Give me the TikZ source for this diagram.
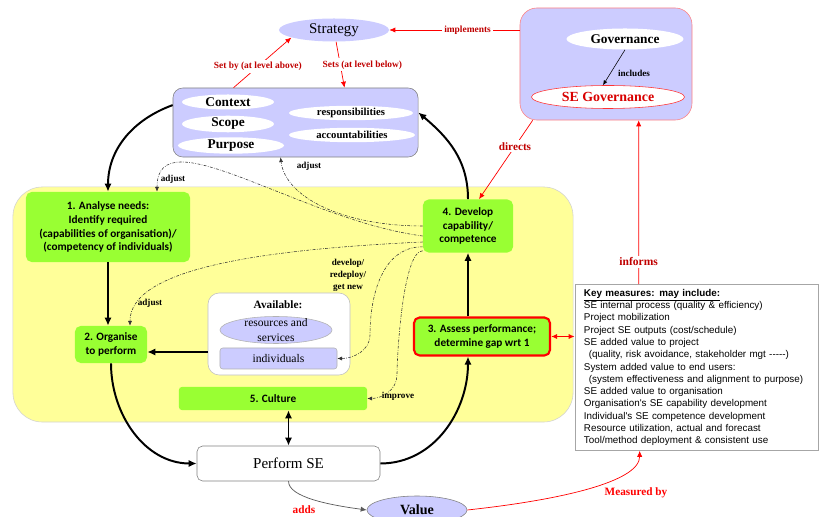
\documentclass[tikz,border=0pt]{standalone}
\usepackage{fontspec}
\setmainfont{Liberation Serif}
\newfontfamily\boxfont{Carlito}
\newfontfamily\listfont{Liberation Sans}
\usetikzlibrary{arrows.meta, positioning, calc, shapes.geometric}
\definecolor{lavender}{RGB}{204,204,255}
\definecolor{paleyellow}{RGB}{255,255,153}
\definecolor{limegreen}{RGB}{153,255,51}
\definecolor{darkred}{RGB}{192,0,0}
\definecolor{pinkred}{RGB}{255,128,128}

\begin{document}
\begin{tikzpicture}[
    x=0.025cm, y=-0.025cm,
    oval/.style={ellipse, inner sep=0pt},
    panel/.style={rectangle, rounded corners=7pt, draw=gray, fill=lavender, inner sep=0pt},
    stage/.style={rectangle, rounded corners=4pt, fill=limegreen, align=center, inner sep=0pt,
        font=\boxfont\bfseries\fontsize{8}{9.9}\selectfont},
    note/.style={font=\bfseries\fontsize{6.5}{8.5}\selectfont, align=center, inner sep=1pt},
    tag/.style={fill=white, text=darkred, inner sep=1.5pt, font=\bfseries\fontsize{6.7}{8}\selectfont},
    flow/.style={-{Latex[length=2mm, width=1.8mm]}, line width=1.4pt},
    twoway/.style={{Latex[length=2mm, width=1.8mm]}-{Latex[length=2mm, width=1.8mm]}, line width=1.4pt},
    link/.style={-{Latex[length=1.5mm, width=1.3mm]}, red, line width=0.5pt},
    tie/.style={-{Latex[length=1.2mm, width=1mm]}, black!80, line width=0.4pt,
        dash pattern=on 2pt off 1pt on 0.5pt off 1pt}
]
    \useasboundingbox (0,0) rectangle (824,517);

    % yellow working area
    \node[rectangle, rounded corners=21pt, draw=gray!35, fill=paleyellow,
        minimum width=14cm, minimum height=5.875cm] (area) at (293,304.5) {};

    % strategy and context
    \node[oval, fill=lavender, minimum width=2.75cm, minimum height=0.575cm,
        font=\fontsize{10.6}{12}\selectfont] (strategy) at (334,30) {Strategy};
    \node[panel, minimum width=6.125cm, minimum height=1.725cm] (ctx) at (295.5,122.5) {};
    \node[oval, fill=white, minimum width=2.3cm, minimum height=0.375cm,
        font=\bfseries\fontsize{9.5}{11}\selectfont] (context) at (228,102) {Context};
    \node[oval, fill=white, minimum width=2.3cm, minimum height=0.375cm,
        font=\bfseries\fontsize{9.5}{11}\selectfont] (scope) at (228,124) {Scope};
    \node[oval, fill=white, minimum width=2.65cm, minimum height=0.4cm,
        font=\bfseries\fontsize{9.5}{11}\selectfont] (purpose) at (231,145.5) {Purpose};
    \node[oval, fill=white, minimum width=3.1cm, minimum height=0.36cm,
        font=\bfseries\fontsize{7.6}{9}\selectfont] (resp) at (351,113) {responsibilities};
    \node[oval, fill=white, minimum width=3.15cm, minimum height=0.36cm,
        font=\bfseries\fontsize{7.6}{9}\selectfont] (acc) at (352,135) {accountabilities};

    % governance
    \node[rectangle, rounded corners=12pt, draw=pinkred, fill=lavender,
        minimum width=4.3cm, minimum height=2.8cm] (gbox) at (606,64) {};
    \node[oval, fill=white, minimum width=2.925cm, minimum height=0.525cm,
        font=\bfseries\fontsize{9.5}{11}\selectfont] (gov) at (625,39) {Governance};
    \node[oval, fill=white, draw=red!80, text=red!85!black, minimum width=3.825cm, minimum height=0.575cm,
        font=\bfseries\fontsize{9.9}{11}\selectfont] (segov) at (608,97) {SE Governance};
    \node[note] (includes) at (634,73) {includes};

    % stages
    \node[stage, minimum width=4.1cm, minimum height=1.75cm] (analyse) at (108,227)
        {1. Analyse needs:\\Identify required\\(capabilities of organisation)/\\(competency of individuals)};
    \node[stage, minimum width=1.8cm, minimum height=0.925cm] (organise) at (111,344.5)
        {2. Organise\\to perform};
    \node[stage, minimum width=2.25cm, minimum height=1.325cm] (develop) at (468,226)
        {4. Develop\\capability/\\competence};
    \node[stage, draw=red, line width=1.5pt, minimum width=3.4cm, minimum height=0.95cm] (assess) at (482,336.5)
        {3. Assess performance;\\determine gap wrt 1};
    \node[stage, rounded corners=2pt, minimum width=4.7cm, minimum height=0.575cm] (culture) at (273,398.5)
        {5. Culture};

    % available resources
    \node[rectangle, rounded corners=8pt, draw=gray!50, fill=white,
        minimum width=3.55cm, minimum height=2.05cm] (avail) at (279,334) {};
    \node[font=\bfseries\fontsize{8}{9}\selectfont, inner sep=0pt] (availtitle) at (278,305) {Available:};
    \node[oval, fill=lavender, draw=gray!60, minimum width=2.8cm, minimum height=0.675cm,
        label={[align=center, font=\fontsize{8.2}{10.6}\selectfont]center:resources and\\services}] (resources) at (276,330) {};
    \node[rectangle, rounded corners=2pt, fill=lavender, draw=gray!60, minimum width=2.925cm, minimum height=0.525cm,
        font=\fontsize{8.3}{9}\selectfont] (individuals) at (278.5,358.5) {individuals};

    % perform and value
    \node[rectangle, rounded corners=4pt, draw=gray, fill=white, minimum width=4.575cm, minimum height=0.875cm,
        font=\fontsize{10.7}{12}\selectfont] (perform) at (288.5,463.5) {Perform SE};
    \node[oval, fill=lavender, draw=gray, minimum width=2.5cm, minimum height=0.7cm,
        font=\bfseries\fontsize{10}{12}\selectfont] (value) at (417,510) {Value};

    % key measures
    \node[rectangle, draw=gray!70, fill=white, minimum width=6.075cm, minimum height=4.05cm,
        text width=5.625cm, inner xsep=6.4pt, align=left,
        font=\listfont\fontsize{7}{8.74}\selectfont] (measures) at (696.5,367.5)
        {\underline{\textbf{Key measures: may include:}}\\
        SE internal process (quality \& efficiency)\\
        Project mobilization\\
        Project SE outputs (cost/schedule)\\
        SE added value to project\\
        \hspace*{0.5em}(quality, risk avoidance, stakeholder mgt -{}-{}-{}-{}-)\\
        System added value to end users:\\
        \hspace*{0.5em}(system effectiveness and alignment to purpose)\\
        SE added value to organisation\\
        Organisation's SE capability development\\
        Individual's SE competence development\\
        Resource utilization, actual and forecast\\
        Tool/method deployment \& consistent use};

    % main loop
    \draw[flow] ($(ctx.north west)!0.25!(ctx.south west)$) to[out=200, in=90] (analyse.north);
    \draw[flow] (analyse.south) -- (analyse.south |- organise.north);
    \draw[flow] ($(avail.west)+(0,18)$) coordinate (availout) -- (availout -| organise.east);
    \draw[flow] (organise.south) to[out=-90, in=180] (perform.west);
    \draw[flow] (perform.east) to[out=0, in=-90] (develop.south |- assess.south);
    \draw[flow] (develop.south |- assess.north) -- (develop.south);
    \draw[flow] (develop.north) to[out=90, in=-40] ($(ctx.east)+(0,-10)$);
    \draw[twoway] (perform.north) -- (perform.north |- culture.south);
    \draw[->, >={Latex[length=1.2mm, width=1mm]}, line width=0.4pt] (gov.south) -- ($(segov.north)+(-5,0)$);

    % feedback from stage 4
    \draw[tie] (develop.west) .. controls +(-80,0) and +(5,40) .. ($(ctx.south)+(-15,0)$);
    \draw[tie] ($(develop.west)+(0,10)$) .. controls +(-123,-16) and +(0,-77) .. ($(analyse.north)+(49,0)$);
    \draw[tie] ($(develop.west)+(0,16)$) .. controls +(-173,8) and +(0,-55) .. ($(organise.north)+(19,0)$);
    \draw[tie] ($(develop.south west)+(0,-6)$) to[out=180, in=90] (370,335) to[out=-90, in=0] (individuals.east);
    \draw[tie] ($(develop.south west)+(0,-2)$) to[out=180, in=90, looseness=0.4] (397,375) to[out=-90, in=0] (culture.east);
    \node[note] (adjustctx) at (309,166) {adjust};
    \node[note] (adjustneeds) at (173,179) {adjust};
    \node[note] (adjustorg) at (150,303) {adjust};
    \node[note] (redeploy) at (348,275) {develop/\\redeploy/\\get new};
    \node[note] (improve) at (398,396) {improve};

    % red relations
    \draw[link] ($(ctx.north)+(-62,0)$) -- node[tag, pos=0.42] {Set by (at level above)} (strategy.190);
    \draw[link] (strategy.280) -- node[tag, pos=0.5, anchor=west, xshift=-0.5cm] {Sets (at level below)} ($(ctx.north)+(49,0)$);
    \draw[link] (gbox.west |- strategy.east) -- node[tag, pos=0.4] {implements} (strategy.east);
    \draw[link] ($(gbox.south west)+(13,0)$) -- node[tag, pos=0.33, font=\bfseries\fontsize{8}{9}\selectfont] {directs} ($(develop.north)+(11,0)$);
    \draw[link] ($(measures.north west)+(64,0)$) -- node[tag, pos=0.136, font=\bfseries\fontsize{8.2}{9}\selectfont] {informs} ($(gbox.south west)+(119,0)$);
    \draw[link, {Latex[length=1.5mm, width=1.3mm]}-{Latex[length=1.5mm, width=1.3mm]}, line width=1.2pt]
        (assess.east) -- (assess.east -| measures.west);
    \draw[link] (value.east) .. controls +(93,-10) and +(0,31) .. ($(measures.south west)+(65,0)$);
    \draw[-{Latex[length=1.5mm, width=1.3mm]}, gray!70!black, line width=0.5pt]
        (perform.south) .. controls +(0,16) and +(-37,-5) .. (value.west);
    \node[text=red, font=\bfseries\fontsize{8}{9}\selectfont] (measuredby) at (636,493) {Measured by};
    \node[text=red, font=\bfseries\fontsize{8}{9}\selectfont] (adds) at (304,510) {adds};
\end{tikzpicture}
\end{document}
